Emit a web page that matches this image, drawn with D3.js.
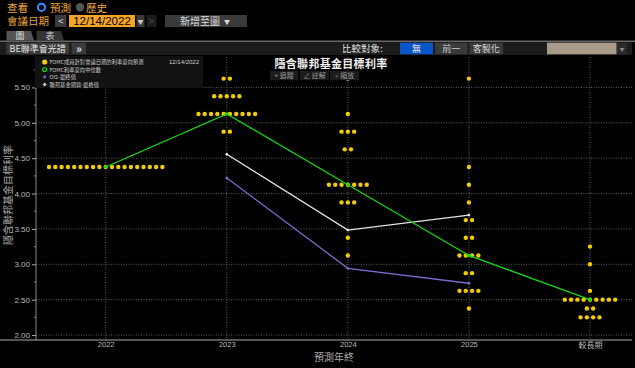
<!DOCTYPE html>
<html><head><meta charset="utf-8">
<script src="https://cdn.jsdelivr.net/npm/d3@7"></script>
<style>
html,body{margin:0;padding:0;background:#000;overflow:hidden;}
svg{display:block;font-family:"Noto Sans CJK TC","Noto Sans",sans-serif;}
</style></head><body>
<svg id="c" width="635" height="368"></svg>
<script>
// ---- data ----
const categories = ["2022","2023","2024","2025","較長期"];
const yTicks = [2.0,2.5,3.0,3.5,4.0,4.5,5.0,5.5];
// dot plot: [rate, number of participants]
const dots2022 = [[4.375,19]];
const dots2023 = [[5.625,2],[5.375,5],[5.125,10],[4.875,2]];
const dots2024 = [[5.625,1],[5.125,1],[4.875,3],[4.625,2],[4.125,7],[3.875,3],[3.375,1],[3.125,1]];
const dots2025 = [[5.625,1],[4.375,1],[4.125,1],[3.875,1],[3.625,2],[3.375,2],[3.125,4],[2.875,2],[2.625,4],[2.375,1]];
const dotsLR = [[3.25,1],[3.0,1],[2.625,1],[2.5,9],[2.375,2],[2.25,4]];
const medianValues = [4.375,5.125,4.125,3.125,2.5];
const futuresCats = ["2023","2024","2025"];
const futuresValues = [4.555,3.484,3.696];
const oisCats = ["2023","2024","2025"];
const oisValues = [4.22,2.943,2.732];
const legendLabels = ["FOMC成員針對會議日期的利率意向預測","FOMC利率意向中位數","OIS-最終值","聯邦基金期貨-最終值"];

const svg = d3.select("#c");
const FONT = '"Noto Sans CJK TC","Noto Sans",sans-serif';

// ---- top UI ----
const ui = svg.append("g");
const orange = "#e9a33b";
ui.append("text").attr("x",7).attr("y",11.5).attr("font-size",10.5).attr("fill",orange).text("查看");
ui.append("circle").attr("cx",41.5).attr("cy",7.3).attr("r",3.6).attr("fill","none").attr("stroke","#2f8cff").attr("stroke-width",2);
ui.append("text").attr("x",50).attr("y",11.5).attr("font-size",10.5).attr("fill",orange).text("預測");
ui.append("circle").attr("cx",80).attr("cy",7.3).attr("r",4.2).attr("fill","#555");
ui.append("text").attr("x",86).attr("y",11.5).attr("font-size",10.5).attr("fill",orange).text("歷史");
ui.append("text").attr("x",7).attr("y",25).attr("font-size",10.5).attr("fill",orange).text("會議日期");
ui.append("rect").attr("x",55).attr("y",15).attr("width",11.5).attr("height",12).attr("fill","#3a3a3a");
ui.append("text").attr("x",60.7).attr("y",25).attr("font-size",10).attr("fill","#ddd").attr("text-anchor","middle").text("<");
ui.append("rect").attr("x",69).attr("y",15).attr("width",66).attr("height",12).attr("fill","#f5a524");
ui.append("text").attr("x",102).attr("y",25.3).attr("font-size",11.5).attr("fill","#000").attr("text-anchor","middle").attr("font-family","Liberation Sans, Arial").text("12/14/2022");
ui.append("rect").attr("x",136.5).attr("y",15).attr("width",8).attr("height",12).attr("fill","#3a3a3a");
ui.append("text").attr("x",140.5).attr("y",23.5).attr("font-size",6).attr("fill","#ccc").attr("text-anchor","middle").text("▼");
ui.append("rect").attr("x",146.5).attr("y",15).attr("width",10).attr("height",12).attr("fill","#1c1c1c");
ui.append("text").attr("x",151.5).attr("y",25).attr("font-size",10).attr("fill","#555").attr("text-anchor","middle").text(">");
ui.append("rect").attr("x",165).attr("y",15).attr("width",82).attr("height",12).attr("fill","#3a3a3a");
ui.append("text").attr("x",200).attr("y",24.8).attr("font-size",10).attr("fill","#ddd").attr("text-anchor","middle").text("新增至圖");
ui.append("text").attr("x",227).attr("y",23.5).attr("font-size",6).attr("fill","#ddd").attr("text-anchor","middle").text("▼");
// tabs
ui.append("path").attr("d","M6.5,40.5 L6.5,31 L31,31 L34,40.5 Z").attr("fill","#555");
ui.append("text").attr("x",20).attr("y",39).attr("font-size",9).attr("fill","#ddd").attr("text-anchor","middle").text("圖");
ui.append("path").attr("d","M36.5,40.5 L36.5,31 L61,31 L64,40.5 Z").attr("fill","#333");
ui.append("text").attr("x",50).attr("y",39).attr("font-size",9).attr("fill","#ccc").attr("text-anchor","middle").text("表");
ui.append("rect").attr("x",0).attr("y",40.5).attr("width",635).attr("height",1.6).attr("fill","#666");
ui.append("rect").attr("x",0).attr("y",42).attr("width",632).attr("height",13).attr("fill","#1c1c1c");
ui.append("rect").attr("x",6.5).attr("y",42.7).attr("width",62.5).attr("height",11.6).attr("fill","#3a3a3a");
ui.append("text").attr("x",37.7).attr("y",52).attr("font-size",9).attr("fill","#e6e6e6").attr("text-anchor","middle").text("BE聯準會光譜");
ui.append("rect").attr("x",71.7).attr("y",42.7).attr("width",14.3).attr("height",11.6).attr("fill","#3a3a3a");
ui.append("text").attr("x",78.8).attr("y",52.5).attr("font-size",11).attr("fill","#e6e6e6").attr("text-anchor","middle").attr("font-weight","bold").text("»");
ui.append("text").attr("x",342).attr("y",51.8).attr("font-size",9.5).attr("fill","#e0e0e0").text("比較對象:");
ui.append("rect").attr("x",400).attr("y",42.7).attr("width",33).attr("height",11.6).attr("fill","#0a55c8");
ui.append("text").attr("x",416.5).attr("y",52).attr("font-size",9).attr("fill","#e6e6e6").attr("text-anchor","middle").text("無");
ui.append("rect").attr("x",435).attr("y",42.7).attr("width",32.5).attr("height",11.6).attr("fill","#3a3a3a");
ui.append("text").attr("x",451.3).attr("y",52).attr("font-size",9).attr("fill","#ccc").attr("text-anchor","middle").text("前一");
ui.append("rect").attr("x",469.5).attr("y",42.7).attr("width",33.5).attr("height",11.6).attr("fill","#3a3a3a");
ui.append("text").attr("x",486.3).attr("y",52).attr("font-size",9).attr("fill","#ddd").attr("text-anchor","middle").text("客製化");
ui.append("rect").attr("x",547).attr("y",42.7).attr("width",69.5).attr("height",11.6).attr("fill","#a89a8a");
ui.append("rect").attr("x",617).attr("y",42.7).attr("width",10).attr("height",11.6).attr("fill","#2a2a2a");
ui.append("text").attr("x",622).attr("y",50.5).attr("font-size",5).attr("fill","#888").attr("text-anchor","middle").text("▼");

// ---- scales ----
const x = d3.scalePoint().domain(categories).range([105.7,590]);
const y = d3.scaleLinear().domain([1.93,5.93]).range([340,57]);
const plotL = 36, plotR = 632, plotT = 57, plotB = 340;

const chart = svg.append("g");
// grid
chart.selectAll(".hg").data(yTicks).join("line")
  .attr("x1",plotL).attr("x2",plotR).attr("y1",d=>y(d)).attr("y2",d=>y(d))
  .attr("stroke","#5a5a5a").attr("stroke-width",1).attr("stroke-dasharray","1,1.5");
chart.selectAll(".vg").data(categories).join("line")
  .attr("x1",d=>x(d)).attr("x2",d=>x(d)).attr("y1",plotT).attr("y2",plotB)
  .attr("stroke","#5a5a5a").attr("stroke-width",1).attr("stroke-dasharray","1,1.5");

// y axis
const yAxis = d3.axisLeft(y).tickValues(yTicks).tickFormat(d3.format(".2f")).tickSize(4).tickPadding(2);
const gy = chart.append("g").attr("transform",`translate(${plotL},0)`).call(yAxis);
gy.select(".domain").attr("stroke","#888").attr("d",`M0,${plotT}V${plotB}`);
gy.selectAll(".tick line").attr("stroke","#aaa");
gy.selectAll(".tick text").attr("fill","#bbb").attr("font-size",8).attr("font-family","Liberation Sans, Arial");
const minorTicks = d3.range(2.25,5.8,0.5);
chart.selectAll(".mt").data(minorTicks).join("line")
  .attr("x1",plotL-2).attr("x2",plotL).attr("y1",d=>y(d)).attr("y2",d=>y(d)).attr("stroke","#888");

// x axis
const xAxis = d3.axisBottom(x).tickSize(0).tickPadding(2);
const gx = chart.append("g").attr("transform",`translate(0,${plotB})`).call(xAxis);
gx.select(".domain").attr("stroke","#aaa").attr("stroke-width",1.2).attr("d",`M0,0H${plotR}`);
gx.selectAll(".tick text").attr("fill","#bbb").attr("font-size",7.5).attr("font-family","Liberation Sans, Arial");
gx.selectAll(".tick text").filter(d=>d==="較長期").attr("font-family",FONT).attr("font-size",8);
chart.append("text").attr("x",334).attr("y",361).attr("text-anchor","middle").attr("font-size",10).attr("fill","#aaa").text("預測年終");
chart.append("text").attr("transform","translate(12,195) rotate(-90)").attr("text-anchor","middle").attr("font-size",10).attr("fill","#aaa").text("隱含聯邦基金目標利率");

// dots
const allDots = [];
[dots2022,dots2023,dots2024,dots2025,dotsLR].forEach((rows,ci)=>{
  rows.forEach(([v,n])=>{
    for(let i=0;i<n;i++) allDots.push({cat:categories[ci],v:v,off:(i-(n-1)/2)*6.3});
  });
});
chart.selectAll(".dot").data(allDots).join("circle")
  .attr("cx",d=>x(d.cat)+d.off).attr("cy",d=>y(d.v)).attr("r",2.2).attr("fill","#f2cc0a");

// lines
const line = d3.line().x(d=>x(d[0])).y(d=>y(d[1]));
const medData = categories.map((c,i)=>[c,medianValues[i]]);
const futData = futuresCats.map((c,i)=>[c,futuresValues[i]]);
const oisData = oisCats.map((c,i)=>[c,oisValues[i]]);
chart.append("path").datum(oisData).attr("d",line).attr("fill","none").attr("stroke","#7d6bd0").attr("stroke-width",1.3);
chart.append("path").datum(futData).attr("d",line).attr("fill","none").attr("stroke","#e6e6e6").attr("stroke-width",1.3);
chart.append("path").datum(medData).attr("d",line).attr("fill","none").attr("stroke","#14d814").attr("stroke-width",1.3);
chart.selectAll(".md").data(medData).join("circle").attr("cx",d=>x(d[0])).attr("cy",d=>y(d[1])).attr("r",1.8).attr("fill","#14d814");
chart.selectAll(".fd").data(futData).join("circle").attr("cx",d=>x(d[0])).attr("cy",d=>y(d[1])).attr("r",1.4).attr("fill","#e6e6e6");
chart.selectAll(".od").data(oisData).join("circle").attr("cx",d=>x(d[0])).attr("cy",d=>y(d[1])).attr("r",1.4).attr("fill","#7d6bd0");

// legend
const lg = svg.append("g");
lg.append("rect").attr("x",35).attr("y",56).attr("width",168).attr("height",32).attr("fill","#121212");
const ly = [62,69.5,77,84.5];
lg.append("circle").attr("cx",44.7).attr("cy",ly[0]).attr("r",2.6).attr("fill","#f2cc0a");
lg.append("circle").attr("cx",44.7).attr("cy",ly[1]).attr("r",2).attr("fill","none").attr("stroke","#14d814").attr("stroke-width",1.2);
lg.append("circle").attr("cx",44.7).attr("cy",ly[2]).attr("r",1.4).attr("fill","#7d6bd0");
lg.append("path").attr("d",`M44.7,${ly[3]-2}L46.7,${ly[3]}L44.7,${ly[3]+2}L42.7,${ly[3]}Z`).attr("fill","#ccc");
lg.selectAll(".lt").data(legendLabels).join("text")
  .attr("x",49.5).attr("y",(d,i)=>ly[i]+2).attr("font-size",5.3).attr("fill","#cfcfcf").text(d=>d);
lg.append("text").attr("x",169).attr("y",ly[0]+2).attr("font-size",6).attr("fill","#cfcfcf").attr("font-family","Liberation Sans, Arial").text("12/14/2022");

// title + toolbar
svg.append("text").attr("x",331).attr("y",67.5).attr("text-anchor","middle").attr("font-size",11).attr("font-weight","bold").attr("letter-spacing",0.3).attr("fill","#f0f0f0").text("隱含聯邦基金目標利率");
const tb = svg.append("g");
[["+ 追蹤",270,28],["∠ 註解",300,29],["⌕ 縮放",330,29]].forEach(([t,x0,w])=>{
  tb.append("rect").attr("x",x0).attr("y",71).attr("width",w).attr("height",9).attr("fill","#1b1b1b");
  tb.append("text").attr("x",x0+w/2).attr("y",78.3).attr("text-anchor","middle").attr("font-size",7).attr("fill","#9a9a9a").text(t);
});
</script>
</body></html>
